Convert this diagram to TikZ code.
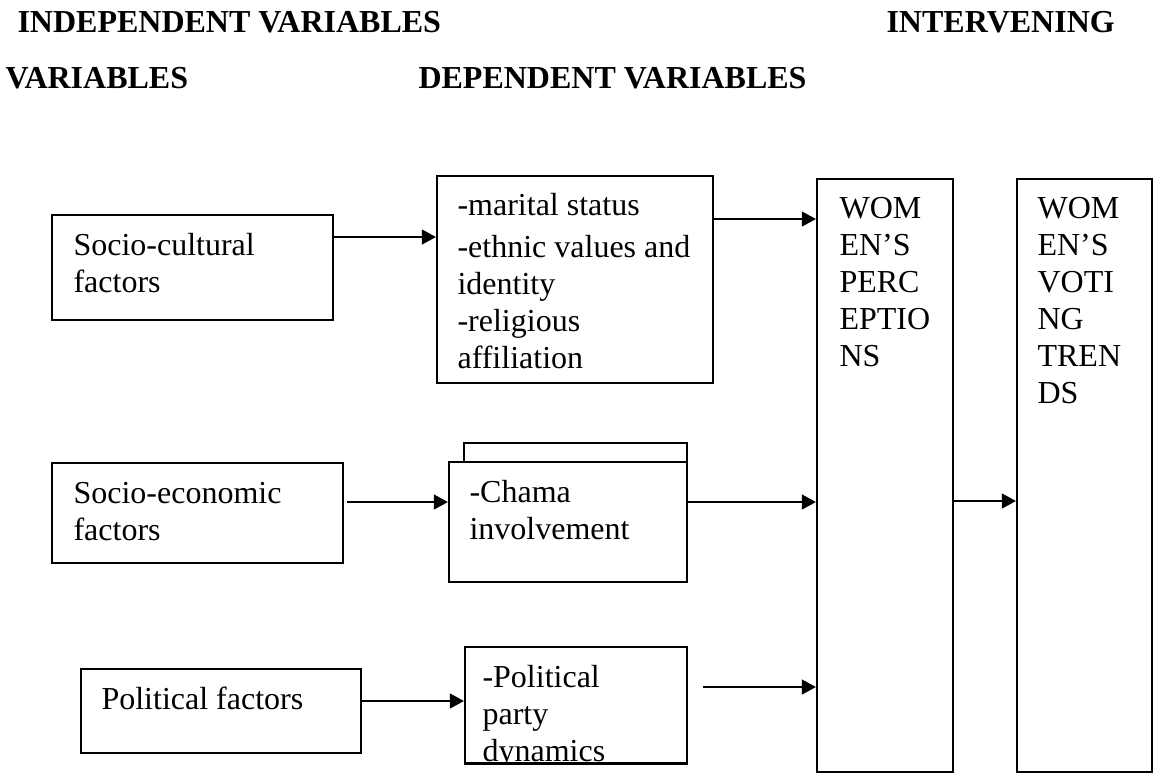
\documentclass[tikz,border=0pt]{standalone}
\usepackage{fontspec}
\setmainfont{Liberation Serif}
\usetikzlibrary{arrows.meta,fit}
\newcommand\mlines[1]{\vtop{\baselineskip=13.875pt\lineskiplimit=-20pt\lineskip=0pt #1}}
\begin{document}
\begin{tikzpicture}[x=0.375pt,y=-0.375pt,
  box/.style={draw, line width=0.8pt, inner sep=0pt, fill=white},
  txt/.style={inner sep=0pt, anchor=base west, font=\fontsize{12pt}{13.875pt}\selectfont},
  ttl/.style={inner sep=0pt, anchor=base west, font=\fontsize{12pt}{13.875pt}\selectfont\bfseries},
  arr/.style={line width=0.6pt, -{Triangle[length=5.3pt,width=5.6pt]}}]
\useasboundingbox (0,0) rectangle (1154,774);
% headings
\node[ttl] (t1) at (17,32) {INDEPENDENT VARIABLES};
\node[ttl] (t2) at (886,32) {INTERVENING};
\node[ttl] (t3) at (5,88) {VARIABLES};
\node[ttl] (t4) at (418,88) {DEPENDENT VARIABLES};
% boxes
\node[box, fit={(52,215) (333,320)}] (sc) {};
\node[box, fit={(52,463) (343,563)}] (se) {};
\node[box, fit={(81,669) (361,753)}] (pf) {};
\node[box, fit={(437,176) (713,383)}] (mar) {};
\node[box, fit={(464,443) (687,480)}] (chb) {};
\node[box, fit={(449,462) (687,582)}] (ch) {};
\node[box, fit={(465,647) (687,763)}] (pol) {};
\node[box, fit={(817,179) (953,772)}] (perc) {};
\node[box, fit={(1017,179) (1152,772)}] (vot) {};
% texts
\node[txt] (sct) at (73,255) {\mlines{\hbox{Socio-cultural}\hbox{factors}}};
\node[txt] (set) at (73,503) {\mlines{\hbox{Socio-economic}\hbox{factors}}};
\node[txt] (pft) at (101,709) {Political factors};
\node[txt] (mart) at (457,215) {\mlines{\hbox{-marital status}\vskip1.9pt\hbox{-ethnic values and}\hbox{identity}\hbox{-religious}\hbox{affiliation}}};
\node[txt] (cht) at (469,502) {\mlines{\hbox{-Chama}\hbox{involvement}}};
\begin{scope}
  \clip (pol.south west) rectangle (pol.north east);
  \node[txt] (polt) at (482,687) {\mlines{\hbox{-Political}\hbox{party}\hbox{dynamics}}};
\end{scope}
\draw[line width=0.8pt] (pol.south west) -- (pol.south east);
\node[txt] (perct) at (839,218) {\mlines{\hbox{WOM}\hbox{EN’S}\hbox{PERC}\hbox{EPTIO}\hbox{NS}}};
\node[txt] (vott) at (1037,218) {\mlines{\hbox{WOM}\hbox{EN’S}\hbox{VOTI}\hbox{NG}\hbox{TREN}\hbox{DS}}};
% connectors
\coordinate (seout) at (347,502);
\coordinate (polout) at (703,687);
\draw[arr] (sc.east |- 0,237) -- (mar.west |- 0,237);
\draw[arr] (mar.east |- 0,219) -- (perc.west |- 0,219);
\draw[arr] (seout) -- (ch.west |- seout);
\draw[arr] (ch.east |- 0,502) -- (perc.west |- 0,502);
\draw[arr] (pf.east |- 0,701) -- (pol.west |- 0,701);
\draw[arr] (polout) -- (perc.west |- polout);
\draw[arr] (perc.east |- 0,501) -- (vot.west |- 0,501);
\end{tikzpicture}
\end{document}
